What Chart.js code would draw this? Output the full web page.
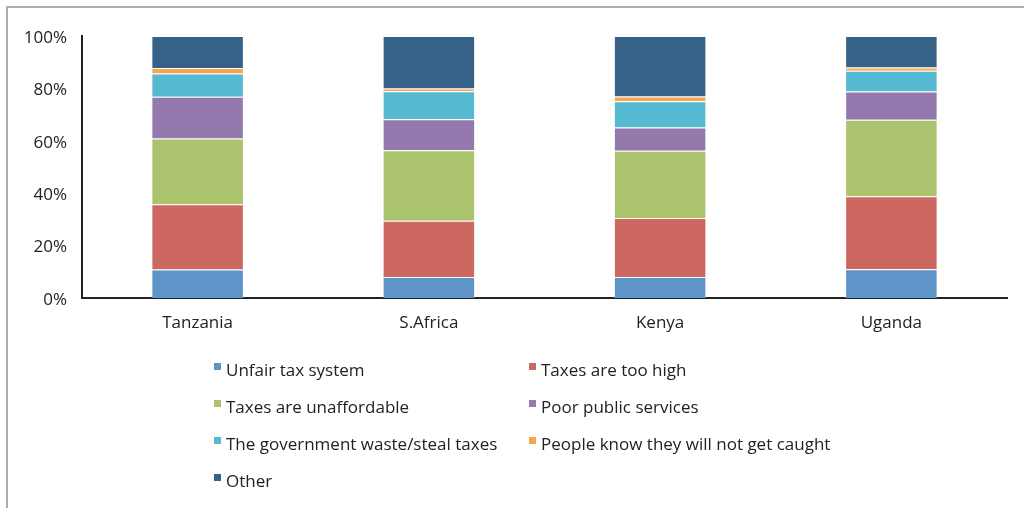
<!DOCTYPE html>
<html>
<head>
<meta charset="utf-8">
<script src="https://cdn.jsdelivr.net/npm/chart.js@4.4.1/dist/chart.umd.min.js"></script>
<style>
	html, body { margin: 0; padding: 0; background: #fff; }
	#wrap { position: relative; width: 1024px; height: 508px; overflow: hidden; }
	#frame { position: absolute; left: 6px; top: 6px; right: 0; bottom: 0; border-top: 2px solid #adadad; border-left: 2px solid #adadad; }
	#chart { position: absolute; left: 0; top: 0; }
	#legend { position: absolute; left: 214px; top: 357px; width: 700px; font-family: "Open Sans", sans-serif; font-size: 17px; color: #222; }
	.item { position: absolute; white-space: nowrap; line-height: 26px; }
	.item .box { position: absolute; left: 0; top: 6px; width: 7px; height: 7px; }
	.item .txt { padding-left: 12px; }
</style>
</head>
<body>
<div id="wrap">
	<div id="frame"></div>
	<canvas id="chart" width="1024" height="508"></canvas>
	<div id="legend"></div>
</div>
<script>
const countries = ['Tanzania', 'S.Africa', 'Kenya', 'Uganda'];

const unfairSystem = [10.9, 8.0, 8.0, 11.0];
const tooHigh = [24.9, 21.5, 22.5, 27.8];
const unaffordable = [25.1, 26.9, 25.7, 29.2];
const poorServices = [15.9, 11.8, 8.9, 10.8];
const wasteSteal = [8.9, 10.7, 10.0, 7.9];
const notCaught = [2.1, 1.1, 1.8, 1.3];
const other = [12.2, 20.0, 23.1, 12.0];

const yTicks = [0, 20, 40, 60, 80, 100];

function series(label, data, color) {
	return {
		label: label,
		data: data,
		backgroundColor: color,
		borderColor: 'rgba(255,255,255,0.35)',
		borderWidth: 1,
		barPercentage: 0.4,
		categoryPercentage: 1.0
	};
}

const datasets = [
	series('Unfair tax system', unfairSystem, '#5f94c8'),
	series('Taxes are too high', tooHigh, '#cd6860'),
	series('Taxes are unaffordable', unaffordable, '#aac36c'),
	series('Poor public services', poorServices, '#9479ae'),
	series('The government waste/steal taxes', wasteSteal, '#56b9d2'),
	series('People know they will not get caught', notCaught, '#f6a650'),
	series('Other', other, '#366288')
];

const font = { family: '"Open Sans", sans-serif', size: 17 };

const chart = new Chart(document.getElementById('chart'), {
	type: 'bar',
	data: { labels: countries, datasets: datasets },
	options: {
		responsive: false,
		animation: false,
		layout: { padding: { top: 36, right: 17, bottom: 170, left: 0 } },
		plugins: {
			legend: { display: false },
			tooltip: { enabled: false }
		},
		scales: {
			x: {
				stacked: true,
				grid: { display: false, drawTicks: false },
				border: { color: '#222', width: 2 },
				ticks: { color: '#222', font: font, padding: 15, maxRotation: 0 },
				afterFit: function (scale) { scale.height = 40; }
			},
			y: {
				stacked: true,
				min: 0,
				max: 100,
				grid: { display: false, drawTicks: false },
				border: { color: '#222', width: 2 },
				afterBuildTicks: function (scale) {
					scale.ticks = yTicks.map(v => ({ value: v }));
				},
				ticks: {
					color: '#222',
					font: font,
					padding: 15,
					labelOffset: 2,
					callback: v => v + '%'
				},
				afterFit: function (scale) { scale.width = 82; }
			}
		}
	}
});

// legend in two columns under the plot
const legendEl = document.getElementById('legend');
chart.data.datasets.forEach((ds, i) => {
	const item = document.createElement('div');
	item.className = 'item';
	item.style.left = (i % 2 === 0 ? 0 : 315) + 'px';
	item.style.top = (Math.floor(i / 2) * 37) + 'px';
	item.innerHTML = `<span class="box" style="background:${ds.backgroundColor}"></span><span class="txt">${ds.label}</span>`;
	legendEl.appendChild(item);
});
</script>
</body>
</html>
